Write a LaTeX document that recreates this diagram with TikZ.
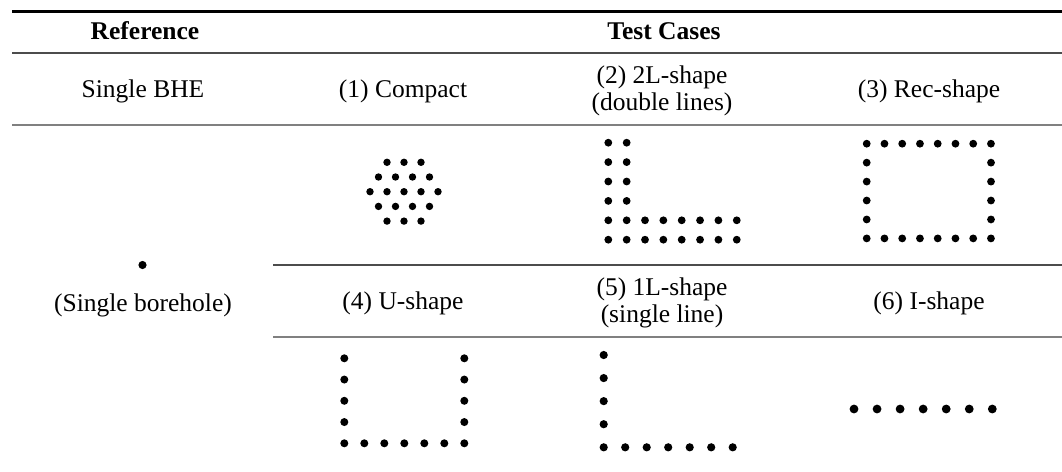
\documentclass[tikz,border=0pt]{standalone}
\usepackage{fontspec}
\setmainfont{Liberation Serif}
\definecolor{rulegray}{gray}{0.5}
\definecolor{darkrule}{gray}{0.3}
\begin{document}
\begin{tikzpicture}[x=1pt,y=-1pt,
  lbl/.style={anchor=base, inner sep=0pt, align=center, font=\fontsize{25.5}{27}\selectfont},
  hdr/.style={anchor=base, inner sep=0pt, font=\fontsize{25.5}{27}\selectfont\bfseries},
  dot/.style={fill=black},
  toprule/.style={line width=2.6pt, black},
  thinrule/.style={line width=1.2pt, darkrule},
  grayrule/.style={line width=2pt, rulegray}]
\useasboundingbox (0,0) rectangle (1062,471);
% rules
\coordinate (t1) at (12,11.5);  \coordinate (t2) at (1062,11.5);
\coordinate (h1) at (12,53);    \coordinate (h2) at (1062,53);
\coordinate (r1) at (12,125);   \coordinate (r2) at (1062,125);
\coordinate (m1) at (273,265);  \coordinate (m2) at (1062,265);
\coordinate (n1) at (273,337);  \coordinate (n2) at (1062,337);
\draw[toprule] (t1) -- (t2);
\draw[thinrule] (h1) -- (h2);
\draw[grayrule] (r1) -- (r2);
\draw[thinrule] (m1) -- (m2);
\draw[grayrule] (n1) -- (n2);
% header
\node[hdr] (href) at (145,39) {Reference};
\node[hdr] (htest) at (664,39) {Test Cases};
% row 2
\node[lbl] (sbhe) at (143,97) {Single BHE};
\node[lbl] (c1) at (403,97) {(1) Compact};
\node[lbl] (c2) at (662,110) {(2) 2L-shape\\(double lines)};
\node[lbl] (c3) at (929,97) {(3) Rec-shape};
% row 4
\node[lbl] (sb) at (143,311) {(Single borehole)};
\node[lbl] (c4) at (403,309) {(4) U-shape};
\node[lbl] (c5) at (662,322) {(5) 1L-shape\\(single line)};
\node[lbl] (c6) at (929,309) {(6) I-shape};
% single borehole
\fill[dot] (142.5,265) circle (4.1pt);
% (1) compact hexagon
\foreach \r/\n in {-2/3,-1/4,0/5,1/4,2/3}{
  \foreach \k in {1,...,\n}{
    \fill[dot] ({404+17*(\k-(\n+1)/2)},{191.7+14.7*\r}) circle (3.7pt);
  }
}
% (2) 2L-shape
\foreach \i in {0,1}{
  \foreach \j in {0,...,3}{
    \fill[dot] ({608.3+18.35*\i},{142.7+19.4*\j}) circle (3.9pt);
  }
}
\foreach \i in {0,...,7}{
  \foreach \j in {4,5}{
    \fill[dot] ({608.3+18.35*\i},{142.7+19.4*\j}) circle (3.9pt);
  }
}
% (3) Rec-shape
\foreach \i in {0,...,7}{
  \fill[dot] ({866.7+17.75*\i},143.7) circle (3.9pt);
  \fill[dot] ({866.7+17.75*\i},238.4) circle (3.9pt);
}
\foreach \j in {1,...,4}{
  \fill[dot] (866.7,{143.7+18.94*\j}) circle (3.9pt);
  \fill[dot] (991,{143.7+18.94*\j}) circle (3.9pt);
}
% (4) U-shape
\foreach \j in {0,...,3}{
  \fill[dot] (344.3,{358.3+21.25*\j}) circle (4pt);
  \fill[dot] (464.3,{358.3+21.25*\j}) circle (4pt);
}
\foreach \i in {0,...,6}{
  \fill[dot] ({344.3+20*\i},443.3) circle (4pt);
}
% (5) 1L-shape
\foreach \j in {0,...,3}{
  \fill[dot] (603.7,{355+23.07*\j}) circle (4.1pt);
}
\foreach \i in {0,...,6}{
  \fill[dot] ({603.7+21.5*\i},447.3) circle (4.1pt);
}
% (6) I-shape
\foreach \i in {0,...,6}{
  \fill[dot] ({854+23.05*\i},409) circle (4.4pt);
}
\end{tikzpicture}
\end{document}
